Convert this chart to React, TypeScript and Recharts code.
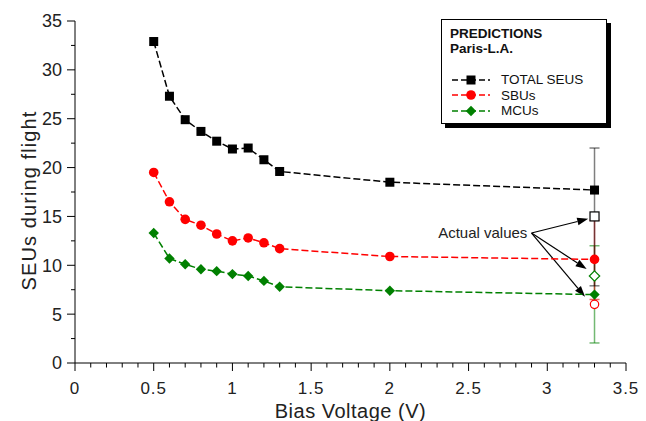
import {
  ErrorBar,
  Legend,
  ReferenceDot,
  ReferenceLine,
  Scatter,
  ScatterChart,
  XAxis,
  YAxis,
} from "recharts";

// bias voltage (V) for the predictions
const voltages = [0.5, 0.6, 0.7, 0.8, 0.9, 1.0, 1.1, 1.2, 1.3, 2.0, 3.3];
const totalSeus = [32.9, 27.3, 24.9, 23.7, 22.7, 21.9, 22.0, 20.8, 19.6, 18.5, 17.7];
const sbus = [19.5, 16.5, 14.7, 14.1, 13.2, 12.5, 12.8, 12.3, 11.7, 10.9, 10.6];
const mcus = [13.3, 10.7, 10.1, 9.6, 9.4, 9.1, 8.9, 8.4, 7.8, 7.4, 7.0];

// measured values at 3.3 V, with their ranges
const actualVoltage = 3.3;
const actualTotal = 15.0;
const actualTotalRange = [7.9, 22.0];
const actualSbu = 6.0;
const actualSbuRange = [6.5, 14.6];
const actualMcu = 8.9;
const actualMcuRange = [2.05, 12.0];

const xTicks = [
  0, 0.1, 0.2, 0.3, 0.4, 0.5, 0.6, 0.7, 0.8, 0.9, 1, 1.1, 1.2, 1.3, 1.4, 1.5,
  1.6, 1.7, 1.8, 1.9, 2, 2.1, 2.2, 2.3, 2.4, 2.5, 2.6, 2.7, 2.8, 2.9, 3, 3.1,
  3.2, 3.3, 3.4, 3.5,
];
const xMajorTicks = [0, 0.5, 1, 1.5, 2, 2.5, 3, 3.5];
const yTicks = [0, 2.5, 5, 7.5, 10, 12.5, 15, 17.5, 20, 22.5, 25, 27.5, 30, 32.5, 35];
const yMajorTicks = [0, 5, 10, 15, 20, 25, 30, 35];

// "Actual values" annotation (data units)
const annotationLabel = { x: 2.59, y: 13.3 };
const arrowFrom = { x: 2.9, y: 13.3 };
const arrowTargets = [
  { x: 3.26, y: 14.75 },
  { x: 3.25, y: 9.62 },
  { x: 3.24, y: 6.77 },
];

const font = '"Liberation Sans", Arial, sans-serif';
const dash = "7 3";

const toPoints = (ys: number[]) => voltages.map((x, i) => ({ x, y: ys[i] }));
const actualPoint = (y: number, range: number[]) => [
  { x: actualVoltage, y, err: [y - range[0], range[1] - y] },
];

type ShapeKind = "square" | "circle" | "diamond";

function marker(kind: ShapeKind, cx: number, cy: number, color: string, open = false) {
  const fill = open ? "#fff" : color;
  const sw = open ? 1.2 : 0;
  if (kind === "square")
    return <rect x={cx - 4.5} y={cy - 4.5} width={9} height={9} fill={fill} stroke={color} strokeWidth={sw} />;
  if (kind === "circle")
    return <circle cx={cx} cy={cy} r={open ? 4.2 : 4.8} fill={fill} stroke={color} strokeWidth={sw} />;
  const d = 5.2;
  return (
    <polygon
      points={`${cx},${cy - d} ${cx + d},${cy} ${cx},${cy + d} ${cx - d},${cy}`}
      fill={fill}
      stroke={color}
      strokeWidth={sw}
    />
  );
}

const shapeOf = (kind: ShapeKind, color: string, open = false) => (p: any) =>
  marker(kind, p.cx, p.cy, color, open);

const near = (list: number[], v: number) => list.some((m) => Math.abs(m - v) < 1e-6);

const XTick = (props: any) => {
  const { x, y, payload } = props;
  const major = near(xMajorTicks, payload.value);
  return (
    <g>
      <line x1={x} x2={x} y1={y} y2={y + (major ? 8 : 4.5)} stroke="#000" strokeWidth={1} />
      {major && (
        <text
          x={x}
          y={y + 30.5}
          textAnchor="middle"
          fontSize={17}
          letterSpacing={1}
          fill="#222"
          fontFamily={font}
        >
          {payload.value}
        </text>
      )}
    </g>
  );
};

const YTick = (props: any) => {
  const { x, y, payload } = props;
  const major = near(yMajorTicks, payload.value);
  return (
    <g>
      <line x1={x - (major ? 8 : 4)} x2={x} y1={y} y2={y} stroke="#000" strokeWidth={1} />
      {major && (
        <text x={x - 13} y={y + 6.4} textAnchor="end" fontSize={18} fill="#222" fontFamily={font}>
          {payload.value}
        </text>
      )}
    </g>
  );
};

const Arrow = (p: any) => {
  const { x1, y1, x2, y2 } = p;
  const ang = Math.atan2(y2 - y1, x2 - x1);
  const len = 11;
  const half = 3.8;
  const bx = x2 - len * Math.cos(ang);
  const by = y2 - len * Math.sin(ang);
  const px = -Math.sin(ang) * half;
  const py = Math.cos(ang) * half;
  return (
    <g>
      <line x1={x1} y1={y1} x2={bx} y2={by} stroke="#000" strokeWidth={1.2} />
      <polygon points={`${x2},${y2} ${bx + px},${by + py} ${bx - px},${by - py}`} fill="#000" />
    </g>
  );
};

const legendItems: { name: string; color: string; kind: ShapeKind }[] = [
  { name: "TOTAL SEUS", color: "#000", kind: "square" },
  { name: "SBUs", color: "#ff0000", kind: "circle" },
  { name: "MCUs", color: "#008000", kind: "diamond" },
];

const PredictionsLegend = () => (
  <div
    style={{
      width: 166,
      height: 105,
      boxSizing: "border-box",
      border: "1.5px solid #000",
      boxShadow: "4px 4px 0 #000",
      background: "#fff",
      padding: "6px 0 0 8px",
      fontFamily: font,
      color: "#111",
    }}
  >
    <div style={{ fontWeight: "bold", fontSize: 13.5, lineHeight: "15px" }}>PREDICTIONS</div>
    <div style={{ fontWeight: "bold", fontSize: 13.5, lineHeight: "15px" }}>Paris-L.A.</div>
    <div style={{ marginTop: 16 }}>
      {legendItems.map((it) => (
        <div
          key={it.name}
          style={{ display: "flex", alignItems: "center", height: 15.5, fontSize: 13.5 }}
        >
          <svg width={38} height={12} style={{ marginLeft: 2, marginRight: 11 }}>
            <line x1={0} x2={38} y1={6} y2={6} stroke={it.color} strokeWidth={1.5} strokeDasharray="6 3" />
            {marker(it.kind, 19, 6, it.color)}
          </svg>
          <span>{it.name}</span>
        </div>
      ))}
    </div>
  </div>
);

export default function App() {
  return (
    <div style={{ position: "absolute", left: 0, top: 0, width: 646, height: 421, background: "#fff" }}>
      <ScatterChart width={646} height={421} margin={{ top: 21, right: 20, bottom: 0, left: 0 }}>
        <XAxis
          type="number"
          dataKey="x"
          domain={[0, 3.5]}
          ticks={xTicks}
          interval={0}
          tickSize={0}
          tickMargin={0}
          tickLine={false}
          tick={<XTick />}
          axisLine={{ stroke: "#000", strokeWidth: 1 }}
          height={58}
          label={{
            value: "Bias Voltage (V)",
            position: "insideBottom",
            offset: 3,
            fontSize: 20,
            letterSpacing: 0.5,
            fill: "#222",
            fontFamily: font,
          }}
        />
        <YAxis
          type="number"
          dataKey="y"
          domain={[0, 35]}
          ticks={yTicks}
          interval={0}
          tickSize={0}
          tickMargin={0}
          tickLine={false}
          tick={<YTick />}
          axisLine={{ stroke: "#000", strokeWidth: 1 }}
          width={75}
          label={{
            value: "SEUs during flight",
            angle: -90,
            position: "center",
            dx: -9,
            dy: 8.5,
            fontSize: 20,
            letterSpacing: 1.1,
            fill: "#222",
            fontFamily: font,
          }}
        />
        <Legend
          layout="horizontal"
          verticalAlign="middle"
          align="center"
          content={<PredictionsLegend />}
          wrapperStyle={{ left: 441, top: 19, width: 166 }}
        />

        <Scatter
          data={actualPoint(actualMcu, actualMcuRange)}
          fill="#008000"
          shape={shapeOf("diamond", "#008000", true)}
          isAnimationActive={false}
        >
          <ErrorBar dataKey="err" direction="y" width={5} stroke="rgba(0,128,0,0.55)" strokeWidth={1.5} />
        </Scatter>
        <Scatter
          data={actualPoint(actualSbu, actualSbuRange)}
          fill="#ff0000"
          shape={shapeOf("circle", "#ff0000", true)}
          isAnimationActive={false}
        >
          <ErrorBar dataKey="err" direction="y" width={5} stroke="rgba(220,0,0,0.6)" strokeWidth={1.5} />
        </Scatter>
        <Scatter
          data={actualPoint(actualTotal, actualTotalRange)}
          fill="#000"
          shape={shapeOf("square", "#000", true)}
          isAnimationActive={false}
        >
          <ErrorBar dataKey="err" direction="y" width={5} stroke="rgba(0,0,0,0.5)" strokeWidth={1.5} />
        </Scatter>

        <Scatter
          data={toPoints(totalSeus)}
          fill="#000"
          line={{ stroke: "#000", strokeWidth: 1.5, strokeDasharray: dash }}
          lineType="joint"
          shape={shapeOf("square", "#000")}
          isAnimationActive={false}
        />
        <Scatter
          data={toPoints(sbus)}
          fill="#ff0000"
          line={{ stroke: "#ff0000", strokeWidth: 1.5, strokeDasharray: dash }}
          lineType="joint"
          shape={shapeOf("circle", "#ff0000")}
          isAnimationActive={false}
        />
        <Scatter
          data={toPoints(mcus)}
          fill="#008000"
          line={{ stroke: "#008000", strokeWidth: 1.5, strokeDasharray: dash }}
          lineType="joint"
          shape={shapeOf("diamond", "#008000")}
          isAnimationActive={false}
        />

        {arrowTargets.map((t, i) => (
          <ReferenceLine
            key={i}
            segment={[arrowFrom, t]}
            shape={Arrow}
            ifOverflow="visible"
          />
        ))}
        <ReferenceDot
          x={annotationLabel.x}
          y={annotationLabel.y}
          r={0}
          fill="none"
          stroke="none"
          label={{ value: "Actual values", position: "center", fontSize: 15, fill: "#222", fontFamily: font }}
        />
      </ScatterChart>
    </div>
  );
}
